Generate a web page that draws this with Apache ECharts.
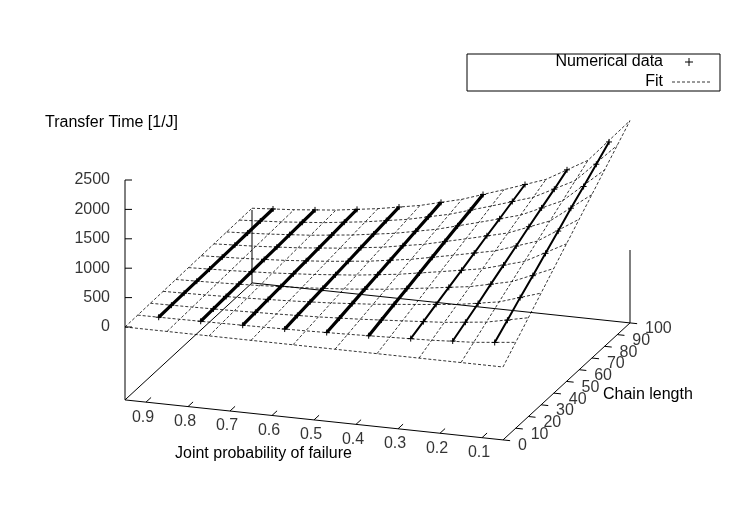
<!DOCTYPE html>
<html><head><meta charset="utf-8">
<script src="https://cdn.jsdelivr.net/npm/echarts@6/dist/echarts.min.js"></script>
<style>html,body{margin:0;padding:0;background:#fff}#c{width:750px;height:525px}</style>
</head><body><div id="c"></div>
<script>
// ---- data ----
const fitP = [0.95,0.85,0.75,0.65,0.55,0.45,0.35,0.25,0.15,0.05];
const fitL = [0,10,20,30,40,50,60,70,80,90,100];
const fitZ = [
 [0,0,0,0,0,0,0,0,0,0],
 [3,8,15,25,38,56,80,105,145,220],
 [6,16,30,50,76,112,160,210,290,440],
 [9,24,45,75,114,168,240,315,435,660],
 [12,32,60,100,152,224,320,420,580,880],
 [15,40,75,125,190,280,400,525,725,1100],
 [18,48,90,150,228,336,480,630,870,1320],
 [21,56,105,175,266,392,560,735,1015,1540],
 [24,64,120,200,304,448,640,840,1160,1760],
 [27,72,135,225,342,504,720,945,1305,1980],
 [30,80,150,250,380,560,800,1050,1450,2200]
];
const dataP = [0.9,0.8,0.7,0.6,0.5,0.4,0.3,0.2,0.1];
const dataL = [10,20,30,40,50,60,70,80,90,100];
const dataZ = [
 [5,11,17,22,28,33,38,44,50,55],
 [12,23,35,46,58,69,80,92,104,115],
 [20,40,61,80,100,121,140,160,181,200],
 [31,63,95,126,158,189,221,252,284,315],
 [47,94,141,188,235,282,329,376,423,470],
 [68,136,204,272,340,408,476,544,612,680],
 [95,185,280,370,460,555,650,740,835,925],
 [130,250,370,500,625,750,880,1000,1120,1250],
 [180,360,545,720,900,1080,1270,1440,1620,1800]
];
const zTicks = [0,500,1000,1500,2000,2500];
const pTicks = [0.9,0.8,0.7,0.6,0.5,0.4,0.3,0.2,0.1];
const lTicks = [0,10,20,30,40,50,60,70,80,90,100];

// ---- projection (3D -> 2D value space of a hidden cartesian) ----
const P0=0.95,P1=0.05,ZBASE=-1240;
function proj(p,L,z){
  const u=(P0-p)/(P0-P1), v=L/100;
  return [125+378*u+127*v, 327+40*u-117*v-z*0.0588];
}
const series=[];
const dashed={color:'#000',width:0.8,type:[3,2]};
fitL.forEach((L,i)=>series.push({type:'line',silent:true,symbol:'none',lineStyle:dashed,z:2,
  data:fitP.map((p,j)=>proj(p,L,fitZ[i][j]))}));
fitP.forEach((p,j)=>series.push({type:'line',silent:true,symbol:'none',lineStyle:dashed,z:2,
  data:fitL.map((L,i)=>proj(p,L,fitZ[i][j]))}));
const plus='path://M0,5L10,5M5,0L5,10';
dataP.forEach((p,k)=>series.push({type:'line',silent:true,symbol:plus,symbolSize:6,showSymbol:true,
  itemStyle:{color:'none',borderColor:'#000',borderWidth:1},
  lineStyle:{color:'#000',width:k<6?3.2:2},z:3,
  data:dataL.map((L,i)=>proj(p,L,dataZ[k][i]))}));
// border segments
const seg=[];
const b=(p,L)=>proj(p,L,ZBASE);
[[b(P0,0),b(P1,0)],[b(P1,0),b(P1,100)],[b(P1,100),b(P0,100)],[b(P0,100),b(P0,0)],
 [b(P0,0),proj(P0,0,2500)],[b(P0,100),proj(P0,100,0)],[b(P1,100),proj(P1,100,0)]]
 .forEach(s=>seg.push([s[0][0],s[0][1],s[1][0],s[1][1]]));
zTicks.forEach(z=>{const a=proj(P0,0,z);seg.push([a[0],a[1],a[0]+7,a[1]]);});
pTicks.forEach(p=>{const a=b(p,0),c=b(p,4);seg.push([a[0],a[1],c[0],c[1]]);});
lTicks.forEach(L=>{const a=b(P1,L),c=b(P1-0.017,L);seg.push([a[0],a[1],c[0],c[1]]);});
series.push({type:'custom',silent:true,z:4,encode:{x:[0,2],y:[1,3]},data:seg,
  renderItem:(params,api)=>{const a=api.coord([api.value(0),api.value(1)]),c=api.coord([api.value(2),api.value(3)]);
   return {type:'line',shape:{x1:a[0],y1:a[1],x2:c[0],y2:c[1]},style:{stroke:'#000',lineWidth:1}};}});
const font={fontFamily:'Liberation Sans, Arial, sans-serif',fontSize:16,color:'#000'};
function labels(pts,texts,pos,off){
  series.push({type:'scatter',silent:true,symbolSize:0,z:5,
    data:pts.map((q,i)=>({value:[q[0],q[1]],name:texts[i]})),
    label:Object.assign({show:true,position:pos,offset:off,formatter:d=>d.name},font)});
}
labels(zTicks.map(z=>proj(P0,0,z)),zTicks.map(String),'left',[-10,0]);
labels(pTicks.map(p=>b(p,0)),pTicks.map(String),'bottom',[-3,2]);
labels(lTicks.map(L=>b(P1,L)),lTicks.map(String),'right',[10,6]);

const F='16px Liberation Sans';
const chart=echarts.init(document.getElementById('c'),null,{renderer:'canvas'});
chart.setOption({animation:false,
  grid:{left:0,right:0,top:0,bottom:0},
  xAxis:{type:'value',min:0,max:750,show:false},
  yAxis:{type:'value',min:0,max:525,inverse:true,show:false},
  series:series,
  graphic:[
    {type:'text',left:45,top:115,style:{text:'Transfer Time [1/J]',fill:'#000',font:F}},
    {type:'text',left:175,top:446,style:{text:'Joint probability of failure',fill:'#000',font:F}},
    {type:'text',left:603,top:387,style:{text:'Chain length',fill:'#000',font:F}},
    {type:'rect',shape:{x:467,y:54,width:253,height:37},style:{fill:'none',stroke:'#000',lineWidth:1}},
    {type:'text',x:663,y:62,style:{text:'Numerical data',fill:'#000',font:F,align:'right',verticalAlign:'middle'}},
    {type:'text',x:663,y:82,style:{text:'Fit',fill:'#000',font:F,align:'right',verticalAlign:'middle'}},
    {type:'line',shape:{x1:685,y1:62,x2:693,y2:62},style:{stroke:'#000',lineWidth:1}},
    {type:'line',shape:{x1:689,y1:58,x2:689,y2:66},style:{stroke:'#000',lineWidth:1}},
    {type:'line',shape:{x1:672,y1:82,x2:710,y2:82},style:{stroke:'#000',lineWidth:0.8,lineDash:[3,2]}}
  ]});
</script></body></html>
